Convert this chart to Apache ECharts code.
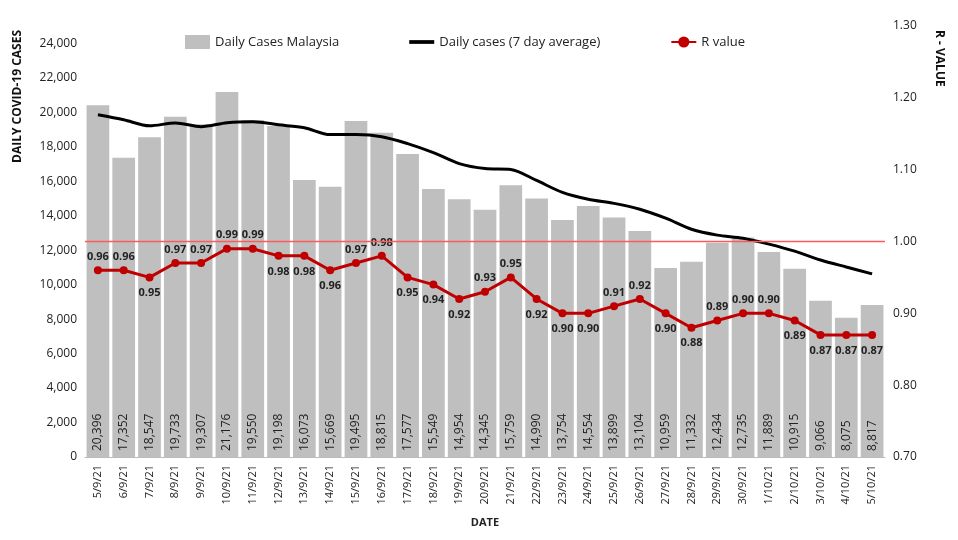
<!DOCTYPE html>
<html><head><meta charset="utf-8">
<script src="https://cdn.jsdelivr.net/npm/echarts@6/dist/echarts.min.js"></script>
<style>html,body{margin:0;padding:0;background:#fff}#c{width:958px;height:540px}</style>
</head><body><div id="c"></div>
<script>
const dates=["5/9/21","6/9/21","7/9/21","8/9/21","9/9/21","10/9/21","11/9/21","12/9/21","13/9/21","14/9/21","15/9/21","16/9/21","17/9/21","18/9/21","19/9/21","20/9/21","21/9/21","22/9/21","23/9/21","24/9/21","25/9/21","26/9/21","27/9/21","28/9/21","29/9/21","30/9/21","1/10/21","2/10/21","3/10/21","4/10/21","5/10/21"];
const cases=[20396,17352,18547,19733,19307,21176,19550,19198,16073,15669,19495,18815,17577,15549,14954,14345,15759,14990,13754,14554,13899,13104,10959,11332,12434,12735,11889,10915,9066,8075,8817];
const avg7=[19850,19560,19210,19380,19160,19390,19450,19270,19100,18700,18700,18580,18180,17660,17020,16730,16680,16040,15350,14950,14710,14370,13850,13210,12870,12690,12350,11940,11430,11020,10620];
const rValue=[0.96,0.96,0.95,0.97,0.97,0.99,0.99,0.98,0.98,0.96,0.97,0.98,0.95,0.94,0.92,0.93,0.95,0.92,0.90,0.90,0.91,0.92,0.90,0.88,0.89,0.90,0.90,0.89,0.87,0.87,0.87];
const belowIdx=[2,7,8,9,12,13,14,17,18,19,22,23,27,28,29,30];
const refLine=[1.0];
const font='"Open Sans", sans-serif';
const c=echarts.init(document.getElementById('c'));
c.setOption({
 animation:false,
 textStyle:{fontFamily:font},
 grid:{left:85,right:73,top:26,bottom:83},
 legend:{top:30,left:180,itemGap:70,textStyle:{fontSize:13,color:'#222'},
  data:[{name:'Daily Cases Malaysia',icon:'rect'},{name:'Daily cases (7 day average)',icon:'path://M0,0H20V3H0Z'},{name:'R value'}]},
 graphic:[
  {type:'text',left:12,top:30,rotation:Math.PI/2,style:{text:'DAILY COVID-19 CASES',font:'bold 12px "Open Sans"',fill:'#111'}},
  {type:'text',left:933,top:30,rotation:-Math.PI/2,style:{text:'R - VALUE',font:'bold 12px "Open Sans"',fill:'#111'}}
 ],
 xAxis:{type:'category',data:dates,name:'DATE',nameLocation:'middle',nameGap:60,
  nameTextStyle:{fontWeight:'bold',fontSize:11,color:'#222'},
  axisLabel:{rotate:90,fontSize:11,color:'#222',interval:0},axisTick:{show:false},
  axisLine:{lineStyle:{color:'#bbb'}}},
 yAxis:[{type:'value',min:0,max:25000,interval:2000,
  axisLabel:{color:'#222',fontSize:12,showMaxLabel:false,formatter:v=>v.toLocaleString('en-US')},splitLine:{show:false},axisLine:{show:false}},
  {type:'value',min:0.7,max:1.3,interval:0.1,
  axisLabel:{color:'#222',fontSize:12,formatter:v=>v.toFixed(2)},splitLine:{show:false},axisLine:{show:false}}],
 series:[
  {name:'Daily Cases Malaysia',type:'bar',data:cases,barCategoryGap:'12%',itemStyle:{color:'#bfbfbf'},
   label:{show:true,position:'insideBottom',rotate:90,align:'left',verticalAlign:'middle',distance:6,fontSize:12,color:'#222',
   formatter:p=>p.value.toLocaleString('en-US')}},
  {name:'Daily cases (7 day average)',type:'line',data:avg7,showSymbol:false,symbol:'none',smooth:0.3,lineStyle:{color:'#000',width:3},itemStyle:{color:'#000'}},
  {name:'ref',type:'line',yAxisIndex:1,data:[],itemStyle:{color:'#ff5a5a'},
   markLine:{silent:true,symbol:'none',label:{show:false},lineStyle:{color:'#ff5a5a',type:'solid',width:1.3,opacity:1},data:refLine.map(v=>({yAxis:v}))}},
  {name:'R value',type:'line',yAxisIndex:1,
   data:rValue.map((v,i)=>belowIdx.includes(i)?{value:v,label:{position:'bottom',distance:6}}:v),
   symbol:'circle',symbolSize:8,lineStyle:{color:'#c00000',width:3},itemStyle:{color:'#c00000'},
   label:{show:true,fontSize:11,fontWeight:'bold',color:'#222',formatter:p=>p.value.toFixed(2),position:'top',distance:4}}
 ]
});
</script></body></html>
